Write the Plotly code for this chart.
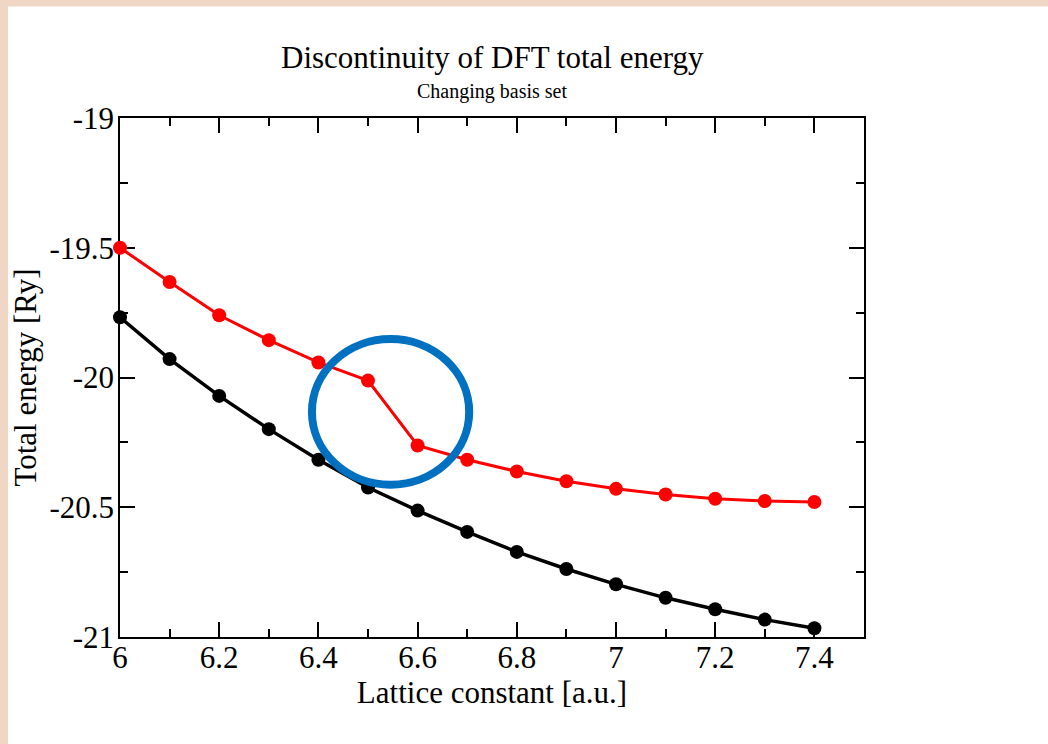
import plotly.graph_objects as go

# ---- data ----
lattice = [6.0, 6.1, 6.2, 6.3, 6.4, 6.5, 6.6, 6.7, 6.8, 6.9, 7.0, 7.1, 7.2, 7.3, 7.4]
energy_changing = [-19.500, -19.632, -19.760, -19.856, -19.942, -20.012, -20.262, -20.317,
                   -20.362, -20.400, -20.429, -20.451, -20.467, -20.476, -20.480]
energy_fixed = [-19.768, -19.929, -20.071, -20.199, -20.317, -20.424, -20.513, -20.595,
                -20.672, -20.738, -20.797, -20.849, -20.893, -20.933, -20.966]

x_tickvals = [6.0, 6.2, 6.4, 6.6, 6.8, 7.0, 7.2, 7.4]
x_ticktext = ["6", "6.2", "6.4", "6.6", "6.8", "7", "7.2", "7.4"]
y_tickvals = [-19.0, -19.5, -20.0, -20.5, -21.0]
y_ticktext = ["-19", "-19.5", "-20", "-20.5", "-21"]

title_text = "Discontinuity of DFT total energy"
subtitle_text = "Changing basis set"
x_title = "Lattice constant [a.u.]"
y_title = "Total energy [Ry]"

# highlighted region (data coordinates)
circle_x = [6.387, 6.704]
circle_y = [-20.413, -19.852]

# ---- layout constants ----
W, H = 1048, 744
ML, MR, MT, MB = 120, 184, 117.5, 107
PW = W - ML - MR
PH = H - MT - MB
FONT = "Liberation Serif, Times New Roman, serif"
PEACH = "#EFD6C5"


def px_to_paper_x(px):
    return (px - ML) / PW


def px_to_paper_y(py):
    return (H - MB - py) / PH


fig = go.Figure()

fig.add_trace(go.Scatter(
    x=lattice, y=energy_fixed, mode="lines+markers",
    line=dict(color="black", width=3.5),
    marker=dict(color="black", size=14),
    cliponaxis=False, showlegend=False,
))
fig.add_trace(go.Scatter(
    x=lattice, y=energy_changing, mode="lines+markers",
    line=dict(color="#FF0000", width=3),
    marker=dict(color="#FF0000", size=14),
    cliponaxis=False, showlegend=False,
))

axis_common = dict(
    showline=True, linecolor="black", linewidth=1.5, mirror="ticks",
    ticks="inside", ticklen=15, tickwidth=1.5, tickcolor="black",
    showgrid=False, zeroline=False, layer="below traces",
    tickfont=dict(family=FONT, size=31, color="black"),
    title_font=dict(family=FONT, size=31, color="black"),
)

fig.update_xaxes(
    range=[6.0, 7.5], tickmode="array", tickvals=x_tickvals, ticktext=x_ticktext,
    minor=dict(ticks="inside", ticklen=8, tickwidth=1.5, tickcolor="black", dtick=0.1, tick0=6.0),
    title=dict(text=x_title, standoff=0),
    ticklabelstandoff=-8,
    **axis_common,
)
fig.update_yaxes(
    range=[-21.0, -19.0], tickmode="array", tickvals=y_tickvals, ticktext=y_ticktext,
    minor=dict(ticks="inside", ticklen=8, tickwidth=1.5, tickcolor="black", dtick=0.25, tick0=-21.0),
    title=dict(text=y_title, standoff=4),
    ticklabelstandoff=-2,
    **axis_common,
)

shapes = [
    # white page area over the peach frame
    dict(type="rect", xref="paper", yref="paper", layer="below",
         x0=px_to_paper_x(8), x1=px_to_paper_x(W + 5),
         y0=px_to_paper_y(H + 5), y1=px_to_paper_y(6),
         fillcolor="white", line=dict(width=0)),
    dict(type="circle", xref="x", yref="y",
         x0=circle_x[0], x1=circle_x[1], y0=circle_y[0], y1=circle_y[1],
         line=dict(color="#0070C0", width=8)),
]

annotations = [
    dict(text=title_text, xref="paper", yref="paper", x=0.5, y=px_to_paper_y(57),
         xanchor="center", yanchor="middle", showarrow=False,
         font=dict(family=FONT, size=31, color="black")),
    dict(text=subtitle_text, xref="paper", yref="paper", x=0.5, y=px_to_paper_y(91),
         xanchor="center", yanchor="middle", showarrow=False,
         font=dict(family=FONT, size=20, color="black")),
]

fig.update_layout(
    width=W, height=H,
    margin=dict(l=ML, r=MR, t=MT, b=MB, autoexpand=False),
    paper_bgcolor=PEACH, plot_bgcolor="rgba(0,0,0,0)",
    shapes=shapes, annotations=annotations,
    showlegend=False,
)

fig.write_html(
    "out.html",
    config={"displayModeBar": False},
    post_script="document.body.style.margin='0';document.body.style.overflow='hidden';",
)
